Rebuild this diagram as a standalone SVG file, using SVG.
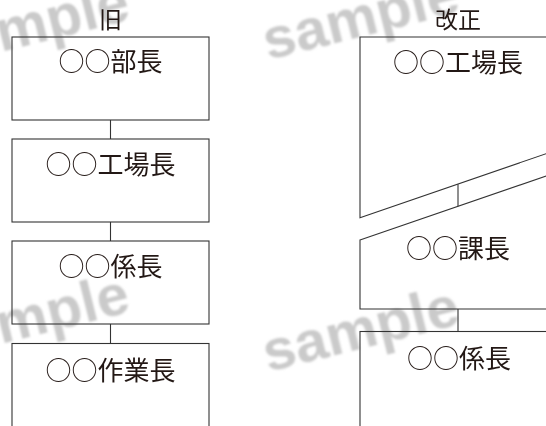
<svg xmlns="http://www.w3.org/2000/svg" width="546" height="426" viewBox="0 0 546 426">
<defs>
<filter id="soft" x="-10%" y="-20%" width="120%" height="140%"><feGaussianBlur stdDeviation="0.8"/></filter>
</defs>
<style>
.bx{fill:none;stroke:#333;stroke-width:1.1}
.cn{stroke:#333;stroke-width:1.1;fill:none}
.lb{font-family:"Noto Sans CJK JP","Noto Sans CJK SC",sans-serif;font-size:26px;fill:#231815;text-anchor:middle}
.tt{font-family:"Noto Sans CJK JP","Noto Sans CJK SC",sans-serif;font-size:23px;fill:#231815;text-anchor:middle}
.wm{font-family:"Liberation Sans",Arial,sans-serif;font-weight:bold;font-size:58px;fill:#cacaca}
</style>
<rect width="546" height="426" fill="#fff"/>
<g id="watermarks" filter="url(#soft)">
<text class="wm" transform="translate(1,52) rotate(-14)">mple</text>
<text class="wm" transform="translate(268,60) rotate(-14)">sample</text>
<text class="wm" transform="translate(1,344) rotate(-14)">mple</text>
<text class="wm" transform="translate(268,372) rotate(-14)">sample</text>
</g>
<text class="tt" x="110.5" y="28">旧</text>
<text class="tt" x="458" y="28">改正</text>
<g id="connectors">
<line class="cn" x1="110.5" y1="120" x2="110.5" y2="139"/>
<line class="cn" x1="110.5" y1="222" x2="110.5" y2="241"/>
<line class="cn" x1="110.5" y1="324" x2="110.5" y2="343.5"/>
<line class="cn" x1="458" y1="184.3" x2="458" y2="206.3"/>
<line class="cn" x1="458" y1="309" x2="458" y2="331.5"/>
</g>
<g id="old-bucho">
<rect class="bx" x="12" y="37" width="197" height="83"/>
<text class="lb" x="110.5" y="71">○○部長</text>
</g>
<g id="old-kojocho">
<rect class="bx" x="12" y="139" width="197" height="83"/>
<text class="lb" x="110.5" y="174">○○工場長</text>
</g>
<g id="old-kakaricho">
<rect class="bx" x="12" y="241" width="197" height="83"/>
<text class="lb" x="110.5" y="276">○○係長</text>
</g>
<g id="old-sagyocho">
<rect class="bx" x="12" y="343.5" width="197" height="100"/>
<text class="lb" x="110.5" y="380">○○作業長</text>
</g>
<g id="new-kojocho">
<polygon class="bx" points="360,217.7 360,37 560,37 560,148.9"/>
<text class="lb" x="458" y="72">○○工場長</text>
</g>
<g id="new-kacho">
<polygon class="bx" points="360,240 560,171.2 560,309 360,309"/>
<text class="lb" x="458" y="258">○○課長</text>
</g>
<g id="new-kakaricho">
<rect class="bx" x="360" y="331.5" width="200" height="110"/>
<text class="lb" x="459" y="368">○○係長</text>
</g>
</svg>
